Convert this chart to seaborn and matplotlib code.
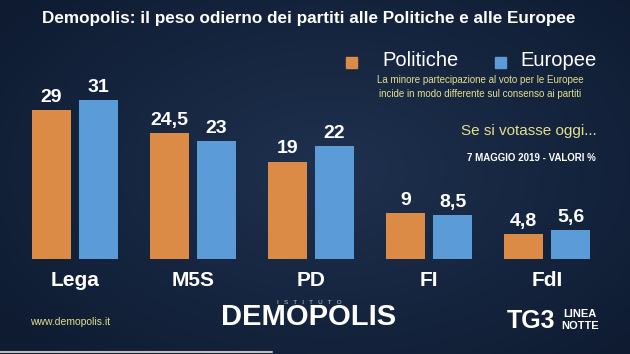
import numpy as np
import pandas as pd
import matplotlib
matplotlib.use("Agg")
import matplotlib.pyplot as plt
import seaborn as sns
from matplotlib.patches import Rectangle

parties = ["Lega", "M5S", "PD", "FI", "FdI"]
politiche = [29, 24.5, 19, 9, 4.8]
europee = [31, 23, 22, 8.5, 5.6]
series_names = ["Politiche", "Europee"]

df = pd.DataFrame({
    "partito": parties * 2,
    "valore": politiche + europee,
    "serie": [series_names[0]] * len(parties) + [series_names[1]] * len(parties),
})

ORANGE = "#DB8B45"
BLUE = "#5A9BD8"
BG = "#12213a"

sns.set_theme(style="white")
plt.rcParams['font.family'] = ['Liberation Sans', 'DejaVu Sans']

fig = plt.figure(figsize=(6.3, 3.54), dpi=100)
fig.patch.set_facecolor(BG)

# subtle radial background gradient
yy, xx = np.mgrid[0:354, 0:630]
r = np.sqrt(((xx - 330) / 420.0) ** 2 + ((yy - 170) / 260.0) ** 2)
c0 = np.array([0x1f, 0x31, 0x4f]) / 255.0
c1 = np.array([0x0e, 0x1b, 0x31]) / 255.0
t = np.clip(r, 0, 1)[..., None]
img = c0 * (1 - t) + c1 * t
bg_ax = fig.add_axes([0, 0, 1, 1], zorder=-1)
bg_ax.imshow(img, aspect="auto", extent=[0, 1, 0, 1])
bg_ax.axis("off")

ax = fig.add_axes([0, 0, 1, 1])
ax.patch.set_alpha(0)

sns.barplot(data=df, x="partito", y="valore", hue="serie",
            palette=[ORANGE, BLUE], width=0.8, gap=0.175,
            ax=ax, legend=False, saturation=1, linewidth=0, edgecolor="none")

px_unit = 5.13
ax.set_xlim(-75 / 118, (630 - 75) / 118)
ax.set_ylim(-95 / px_unit, 259 / px_unit)
ax.axis("off")

for container in ax.containers:
    labels = [f"{v:g}".replace(".", ",") for v in container.datavalues]
    ax.bar_label(container, labels=labels, padding=3, color="white",
                 fontsize=14, fontweight="bold")

for i, p in enumerate(parties):
    ax.text(i, -2.3, p, ha="center", va="top", color="white",
            fontsize=15, fontweight="bold")

# Title
fig.text(0.49, 1 - 19 / 354, "Demopolis: il peso odierno dei partiti alle Politiche e alle Europee",
         ha="center", va="center", color="white", fontsize=12.3, fontweight="bold")

# Legend
fig.patches.append(Rectangle((346 / 630, 1 - 68 / 354), 11 / 630, 11 / 354,
                             transform=fig.transFigure, color=ORANGE, figure=fig))
fig.text(382 / 630, 1 - 60 / 354, series_names[0], ha="left", va="center",
         color="white", fontsize=14.5)
fig.patches.append(Rectangle((495 / 630, 1 - 68 / 354), 11 / 630, 11 / 354,
                             transform=fig.transFigure, color=BLUE, figure=fig))
fig.text(520 / 630, 1 - 60 / 354, series_names[1], ha="left", va="center",
         color="white", fontsize=14.5)

YEL = "#e3df8c"
fig.text(480 / 630, 1 - 80 / 354, "La minore partecipazione al voto per le Europee",
         ha="center", va="center", color=YEL, fontsize=7)
fig.text(480 / 630, 1 - 94 / 354, "incide in modo differente sul consenso ai partiti",
         ha="center", va="center", color=YEL, fontsize=7)
fig.text(529 / 630, 1 - 131 / 354, "Se si votasse oggi...",
         ha="center", va="center", color=YEL, fontsize=11)
fig.text(531 / 630, 1 - 158 / 354, "7 MAGGIO 2019 - VALORI %",
         ha="center", va="center", color="white", fontsize=7, fontweight="bold")

# Footer
fig.text(30 / 630, 1 - 322 / 354, "www.demopolis.it", ha="left", va="center",
         color=YEL, fontsize=7.5)
fig.text(309 / 630, 1 - 302 / 354, "I   S   T   I   T   U   T   O", ha="center",
         va="center", color="#cccccc", fontsize=4.5)
fig.text(309 / 630, 1 - 317 / 354, "DEMOPOLIS", ha="center", va="center",
         color="white", fontsize=21, fontweight="bold")
fig.text(531 / 630, 1 - 321 / 354, "TG3", ha="center", va="center",
         color="white", fontsize=18, fontweight="bold")
fig.text(580 / 630, 1 - 314 / 354, "LINEA", ha="center", va="center",
         color="white", fontsize=8, fontweight="bold")
fig.text(580 / 630, 1 - 326 / 354, "NOTTE", ha="center", va="center",
         color="white", fontsize=8, fontweight="bold")
fig.lines.append(plt.Line2D([0, 272 / 630], [1 - 352 / 354] * 2,
                            transform=fig.transFigure, color="#bbbbbb", lw=1.5))

fig.savefig("out.png", dpi=100, facecolor=BG)
